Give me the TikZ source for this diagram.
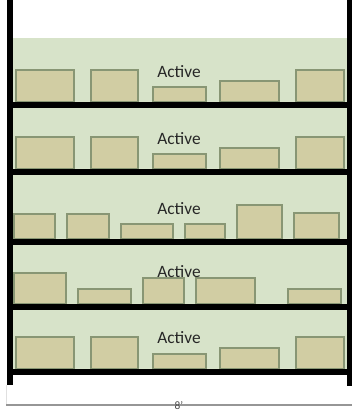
\documentclass[tikz,border=0pt]{standalone}
\usepackage{fontspec}
\setmainfont{Carlito}
\usepackage{tikz}
\usetikzlibrary{positioning}
\definecolor{cShelfBg}{RGB}{215,227,201}
\definecolor{cBoxFill}{RGB}{209,205,163}
\definecolor{cBoxEdge}{RGB}{136,150,116}
\definecolor{cDim}{RGB}{150,150,150}
\tikzset{
  shelfbg/.style={fill=cShelfBg,draw=none},
  rackpost/.style={fill=black,draw=none},
  shelfbar/.style={fill=black,draw=none},
  boxitem/.style={fill=cBoxFill,draw=cBoxEdge,line width=2.2pt},
  shelflabel/.style={font=\fontsize{13}{15}\selectfont,text=black!85,
                     anchor=base,inner sep=0pt},
  dimline/.style={draw=cDim,line width=0.8pt},
  dimlabel/.style={font=\fontsize{8.5}{10}\selectfont,text=black!70,inner sep=0pt}
}
\begin{document}
\begin{tikzpicture}[x=0.75pt,y=-0.75pt]
  \useasboundingbox (0,0) rectangle (352,414);
  \fill[shelfbg] (13,38) rectangle (347,370);

  \foreach \xa/\ya/\xb/\yb in {16/70/74/102,91/70/138/102,153/87/206/102,220/81/279/102,296/70/344/102,
                               16/137/74/169,91/137/138/169,153/154/206/169,220/148/279/169,296/137/344/169,
                               14/214/55/239,67/214/109/239,121/224/173/239,185/224/225/239,237/205/282/239,294/213/339/239,
                               14/273/66/304,78/289/131/304,143/278/184/304,196/278/255/304,288/289/341/304,
                               16/337/74/369,91/337/138/369,153/354/206/369,220/348/279/369,296/337/344/369}
    \draw[boxitem] (\xa,\ya) rectangle (\xb,\yb);

  \foreach \yt in {102,169,239,304,369}
    \fill[shelfbar] (13,\yt) rectangle (347,\yt+5.5);

  \fill[rackpost] (7,0) rectangle (13,385);
  \fill[rackpost] (347,0) rectangle (352,386);

  \foreach \n/\yb in {1/77,2/144,3/214,4/277,5/343}
    \node[shelflabel] (active\n) at (179,\yb) {Active};

  \coordinate (dimL) at (6,405);
  \coordinate (dimR) at (352,405);
  \draw[draw=black!12,line width=0.6pt] (6,385) -- (dimL);
  \draw[dimline] (dimL) -- (dimR);
  \node[dimlabel] (width) at (179,406) {8'};
\end{tikzpicture}
\end{document}
